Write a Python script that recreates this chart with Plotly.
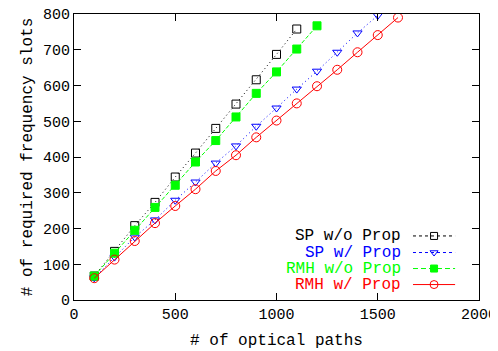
import plotly.graph_objects as go

# ---- data ----
sp_wo_x = [100, 200, 300, 400, 500, 600, 700, 800, 900, 1000, 1100]
sp_wo_y = [67, 136, 208, 273, 344, 411, 480, 548, 616, 687, 758]

sp_w_x = [100, 200, 300, 400, 500, 600, 700, 800, 900, 1000, 1100, 1200, 1300, 1400, 1500]
sp_w_y = [62, 120, 176, 224, 279, 330, 383, 431, 486, 537, 590, 640, 693, 747, 796]

rmh_wo_x = [100, 200, 300, 400, 500, 600, 700, 800, 900, 1000, 1100, 1200]
rmh_wo_y = [67, 131, 195, 259, 321, 386, 446, 512, 578, 638, 702, 767]

rmh_w_x = [100, 200, 300, 400, 500, 600, 700, 800, 900, 1000, 1100, 1200, 1300, 1400, 1500, 1600]
rmh_w_y = [61, 113, 165, 215, 263, 310, 361, 405, 455, 502, 550, 598, 644, 693, 741, 790]

names = ["SP w/o Prop", "SP w/ Prop", "RMH w/o Prop", "RMH w/ Prop"]
colors = ["#000000", "#0000ff", "#00ff00", "#ff0000"]
dashes = ["1px,3px", "1px,3px", "4px,2px", "solid"]
legend_dashes = ["3px,3px", "3px,3px", "5px,3px", "solid"]
symbols = ["square-open", "triangle-down-open", "square", "circle-open"]
sizes = [8, 8, 8, 9]

x_ticks = [0, 500, 1000, 1500, 2000]
y_ticks = [0, 100, 200, 300, 400, 500, 600, 700, 800]

series = [(sp_wo_x, sp_wo_y), (sp_w_x, sp_w_y), (rmh_wo_x, rmh_wo_y), (rmh_w_x, rmh_w_y)]

FONT = "Liberation Mono, Courier New, monospace"

fig = go.Figure()
for (xs, ys), n, c, d, s, sz in zip(series, names, colors, dashes, symbols, sizes):
    fig.add_trace(go.Scatter(
        x=xs, y=ys, mode="lines+markers", name=n,
        line=dict(color=c, dash=d, width=1),
        marker=dict(symbol=s, color=c, size=sz, line=dict(color=c, width=1)),
        showlegend=False,
    ))

# custom legend (text on left, sample on right), drawn on an overlay axis in plot fractions
row_y = [0.224, 0.166, 0.110, 0.054]
for n, c, d, s, sz, ry in zip(names, colors, legend_dashes, symbols, sizes, row_y):
    fig.add_trace(go.Scatter(
        x=[0.837, 0.941], y=[ry, ry], mode="lines",
        line=dict(color=c, dash=d, width=1), xaxis="x2", yaxis="y2",
        showlegend=False, hoverinfo="skip",
    ))
    fig.add_trace(go.Scatter(
        x=[0.889], y=[ry], mode="markers",
        marker=dict(symbol=s, color=c, size=sz - 1, line=dict(color=c, width=1)),
        xaxis="x2", yaxis="y2", showlegend=False, hoverinfo="skip",
    ))
    fig.add_annotation(
        x=0.812, y=ry, xref="x2", yref="y2", text=n, showarrow=False,
        xanchor="right", yanchor="middle", font=dict(family=FONT, size=16, color=c),
        height=15,
    )

axis_common = dict(
    showline=True, linecolor="black", linewidth=1, mirror="ticks",
    ticks="inside", ticklen=7, tickcolor="black", showgrid=False, zeroline=False,
    tickfont=dict(family=FONT, size=15, color="black"), automargin=False,
    ticklabeloverflow="allow",
)

# the page body adds an 8px offset, so the figure is sized to fill the rest of the window
fig.update_layout(
    width=490, height=343,
    margin=dict(l=66, r=19, t=6, b=51),
    paper_bgcolor="white", plot_bgcolor="white",
    xaxis=dict(range=[0, 2000], tickvals=x_ticks,
               title=dict(text="# of optical paths", font=dict(family=FONT, size=16, color="black"), standoff=10),
               **axis_common),
    yaxis=dict(range=[0, 800], tickvals=y_ticks,
               title=dict(text="# of required frequency slots", font=dict(family=FONT, size=16, color="black"), standoff=6),
               **axis_common),
    xaxis2=dict(range=[0, 1], overlaying="x", visible=False, fixedrange=True),
    yaxis2=dict(range=[0, 1], overlaying="y", visible=False, fixedrange=True),
    showlegend=False,
)

fig.write_html("out.html")
